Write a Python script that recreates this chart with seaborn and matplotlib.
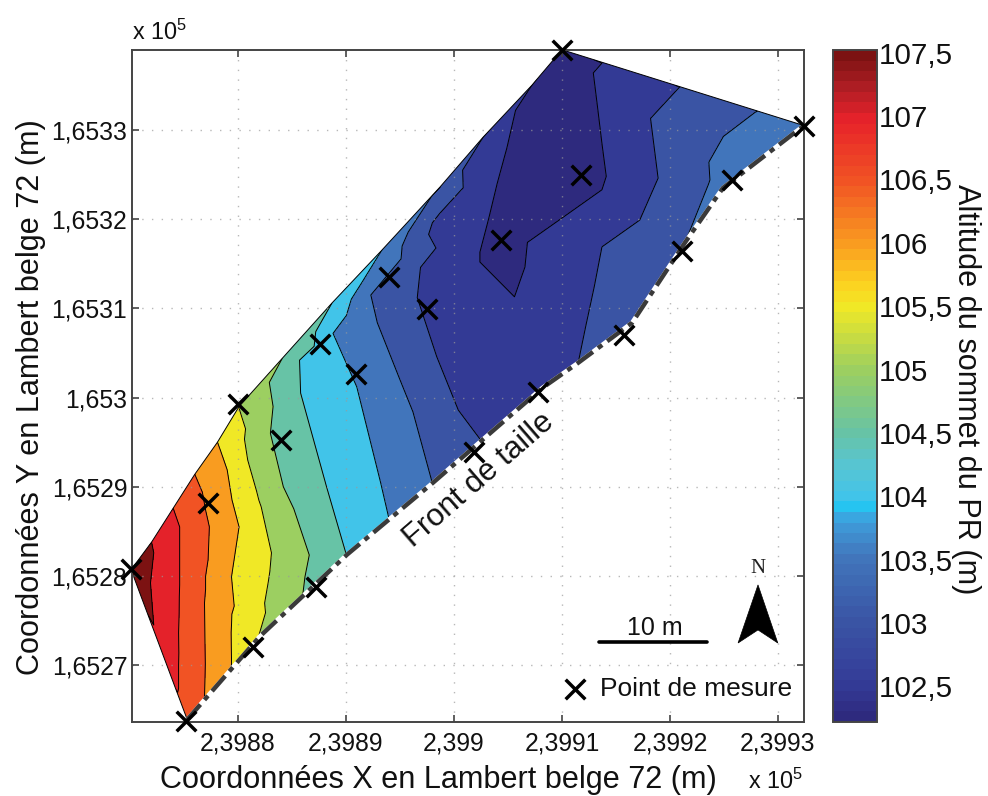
import numpy as np
import pandas as pd
import matplotlib
matplotlib.use('Agg')
import matplotlib.pyplot as plt
import matplotlib.colors as mcolors
import matplotlib.tri as mtri
from matplotlib.cm import ScalarMappable
from matplotlib.patches import Polygon
import seaborn as sns

# all positions are metres from these two origins (Lambert belge 72)
X0 = 239880
Y0 = 165280

# measurement points
POINT_X = [-9.9, -4.8, -2.8, 0.0, 1.4, 4.0, 7.2, 7.6, 10.9, 14.0, 17.5, 21.9, 24.4, 27.8, 30.0, 31.8, 35.7, 41.1, 45.7, 52.4]
POINT_Y = [0.8, -16.3, 8.2, 19.3, -8.0, 15.2, -1.2, 26.0, 22.6, 33.5, 29.9, 13.9, 37.7, 20.6, 59.0, 45.0, 27.0, 36.4, 44.4, 50.4]

# altitude read along each contour of the map
LINES = {
    107.5: [(-8.0, 3.8), (-7.8, 2.6), (-7.8, -5.5)],
    107.0: [(-6.0, 7.6), (-5.4, 5.5), (-5.5, -12.6)],
    106.5: [(-4.0, 11.4), (-3.3, 9.4), (-3.0, 7.4), (-3.1, -3.0), (-3.1, -13.6)],
    106.0: [(-1.9, 15.0), (-1.0, 11.9), (0.1, 5.5), (-0.6, -0.1), (-0.6, -10.3)],
    105.5: [(0.1, 18.8), (0.9, 13.0), (3.1, 2.6), (1.9, -6.8)],
    105.0: [(4.1, 24.4), (2.9, 21.7), (3.0, 16.0), (4.2, 10.0), (6.2, -0.1), (6.0, -2.1)],
    104.5: [(8.7, 30.6), (5.7, 24.2), (5.8, 20.5), (8.2, 10.0), (10.1, 2.1)],
    104.0: [(13.3, 36.5), (8.8, 27.2), (11.0, 21.2), (13.2, 10.5), (14.1, 5.8)],
    103.5: [(18.7, 43.6), (18.0, 42.7), (15.2, 37.0), (12.3, 31.5), (12.9, 28.4), (16.2, 18.4), (18.0, 10.4),
            (47.9, 52.0), (43.6, 46.4), (43.7, 44.4), (41.6, 38.0)],
    103.0: [(22.7, 49.2), (20.8, 45.5), (18.0, 39.6), (16.9, 34.6), (16.6, 31.2), (18.4, 24.6), (20.4, 18.6), (22.5, 15.2),
            (40.8, 54.7), (38.2, 51.3), (38.9, 44.6), (37.2, 39.9), (33.7, 36.9), (33.0, 32.5), (32.2, 28.0), (31.5, 23.9)],
    102.5: [(27.2, 55.0), (25.7, 52.2), (24.9, 48.0), (24.0, 44.0), (23.2, 40.0), (22.4, 36.3), (22.4, 35.2), (25.6, 31.3),
            (26.8, 37.4), (30.2, 40.3), (33.7, 43.3), (34.1, 44.8), (33.7, 48.5), (33.3, 52.5), (32.9, 56.4), (33.7, 57.5)],
}

# spot altitudes read between the contours
SPOTS = {
    107.8: [(-9.9, 0.7)],
    107.25: [(-7.0, 5.5), (-6.6, -2.0), (-6.7, -8.0)],
    106.8: [(-4.7, -16.1)],
    106.75: [(-5.0, 9.5), (-4.2, 0.0), (-4.3, -12.0)],
    106.25: [(-2.6, 13.0), (-1.7, 8.0), (-1.8, -3.0), (-1.8, -10.5)],
    105.75: [(-0.6, 15.0), (0.6, 9.0), (1.4, 2.0), (0.6, -8.0)],
    105.25: [(2.0, 18.0), (2.85, 10.0), (4.5, -1.0), (4.0, -4.5)],
    104.75: [(4.5, 20.0), (6.2, 10.0), (8.0, 0.0), (6.4, 27.5)],
    104.25: [(7.7, 24.0), (10.8, 10.0), (12.1, 4.0), (11.0, 33.5)],
    103.8: [(52.4, 50.5)],
    103.75: [(10.7, 28.5), (13.2, 21.0), (16.0, 8.3)],
    103.7: [(46.5, 47.5)],
    103.65: [(44.9, 43.5)],
    103.25: [(15.0, 30.0), (16.3, 37.0), (17.0, 39.6), (18.3, 18.5), (20.3, 12.7), (36.5, 28.4), (41.3, 44.5), (39.4, 39.0),
             (36.0, 33.0), (43.0, 51.5)],
    102.85: [(21.5, 43.5)],
    102.8: [(28.2, 21.1), (25.0, 20.0), (37.5, 55.5)],
    102.75: [(27.0, 27.0), (19.0, 39.6), (20.0, 32.0), (22.0, 25.0), (30.0, 35.0), (35.5, 40.0), (36.5, 45.0), (36.5, 52.0)],
    102.4: [(25.2, 34.5)],
    102.35: [(24.4, 37.7), (31.8, 45.0), (28.5, 50.0), (29.0, 42.0), (31.0, 53.0), (29.5, 55.0), (26.0, 42.0), (27.0, 46.0)],
    102.3: [(30.0, 59.0)],
}

# outline of the map
EDGE_X = [-9.9, -8.0, -6.0, -4.0, -1.9, 0.1, 4.1, 8.7, 13.3, 18.7, 22.7, 27.2, 30.0, 52.4]
EDGE_Y = [0.7, 3.8, 7.6, 11.4, 15.0, 19.0, 24.4, 30.6, 36.5, 43.6, 49.2, 55.0, 59.0, 50.5]
FRONT_X = [-4.7, 2.0, 10.1, 18.0, 28.2, 31.5, 36.5, 41.4, 44.9, 52.4]
FRONT_Y = [-16.1, -6.8, 2.4, 10.4, 21.1, 23.9, 28.4, 37.4, 43.5, 50.5]

XTICKS = [239880, 239890, 239900, 239910, 239920, 239930]
XLABELS = ['2,3988', '2,3989', '2,399', '2,3991', '2,3992', '2,3993']
YTICKS = [165270, 165280, 165290, 165300, 165310, 165320, 165330]
YLABELS = ['1,6527', '1,6528', '1,6529', '1,653', '1,6531', '1,6532', '1,6533']
CBAR_TICKS = [102.5, 103, 103.5, 104, 104.5, 105, 105.5, 106, 106.5, 107, 107.5]
CBAR_LABELS = ['102,5', '103', '103,5', '104', '104,5', '105', '105,5', '106', '106,5', '107', '107,5']

VMIN = 102.22
VMAX = 107.52
CMAP_VALUES = [102.22, 102.5, 103, 103.5, 103.8, 103.9, 104, 104.25, 104.5, 105, 105.5, 105.7, 106, 106.5, 107, 107.25, 107.52]
CMAP_COLORS = ['#2e2a7e', '#343c98', '#3a55a5', '#4176bc', '#3f9fdc', '#25c4f0', '#45c4e8', '#58c5d0', '#68c3a4', '#9ccf60',
               '#f0e826', '#fdd020', '#f99d20', '#f15424', '#e7222a', '#b01e24', '#7c1212']

sns.set_style('white')
plt.rcParams['font.family'] = ['Liberation Sans', 'DejaVu Sans']
plt.rcParams['mathtext.fontset'] = 'custom'
plt.rcParams['mathtext.rm'] = 'Liberation Sans'
plt.rcParams['mathtext.default'] = 'regular'

TICK_SIZE = 17.8
LABEL_SIZE = 22.1
DARK = '#444444'

norm = mcolors.Normalize(VMIN, VMAX)
anchors = [(v - VMIN) / (VMAX - VMIN) for v in CMAP_VALUES]
cmap = mcolors.LinearSegmentedColormap.from_list('alt', list(zip(anchors, CMAP_COLORS)), N=64)

# samples table for the triangulation
rows = [(X0 + x, Y0 + y, lev) for lev, pts in LINES.items() for x, y in pts]
rows += [(X0 + x, Y0 + y, lev) for lev, pts in SPOTS.items() for x, y in pts]
samples = pd.DataFrame(rows, columns=['x', 'y', 'z'])
points = pd.DataFrame({'x': X0 + np.array(POINT_X), 'y': Y0 + np.array(POINT_Y)})
front = pd.DataFrame({'x': X0 + np.array(FRONT_X), 'y': Y0 + np.array(FRONT_Y)})

fig = plt.figure(figsize=(9.88, 7.96), dpi=100)
ax = fig.add_axes([131.5 / 988, 74 / 796, 672.5 / 988, 672 / 796])
cax = fig.add_axes([833 / 988, 74 / 796, 44 / 988, 672 / 796])

tri = mtri.Triangulation(samples['x'], samples['y'])
levels = [100] + CBAR_TICKS + [110]
# each band takes the colour of its lower contour
band_colors = [cmap(norm(VMIN))] + [cmap(norm(v)) for v in CBAR_TICKS]
outline_xy = np.column_stack([
    X0 + np.array(EDGE_X + FRONT_X[::-1]),
    Y0 + np.array(EDGE_Y + FRONT_Y[::-1]),
])
clip = Polygon(outline_xy, closed=True, transform=ax.transData)

fill = ax.tricontourf(tri, samples['z'], levels=levels, colors=band_colors)
fill.set_clip_path(clip)
lines = ax.tricontour(tri, samples['z'], levels=CBAR_TICKS, colors='black', linewidths=0.7)
lines.set_clip_path(clip)
ax.add_patch(Polygon(outline_xy, closed=True, fill=False, edgecolor='black', linewidth=0.7))

# front de taille: white line under a dark dash-dot one
sns.lineplot(data=front, x='x', y='y', sort=False, estimator=None, color='white', linewidth=3.2, ax=ax, zorder=3)
sns.lineplot(data=front, x='x', y='y', sort=False, estimator=None, color='#3a3a3a', linewidth=3.2, ax=ax, zorder=3.1,
             linestyle=(0, (4.5, 1.4, 1.2, 1.4)))

sns.scatterplot(data=points, x='x', y='y', marker='x', s=200, color='black', linewidth=2.5, clip_on=False,
                ax=ax, zorder=4, label='Point de mesure')

ax.set_xlim(X0 - 9.86, X0 + 52.41)
ax.set_ylim(Y0 - 16.37, Y0 + 58.97)
ax.set_xticks(XTICKS, XLABELS)
ax.set_yticks(YTICKS, YLABELS)
ax.grid(True, linestyle=(0, (1, 6)), color='#9a9a9a', linewidth=1.0, alpha=0.7)
ax.set_axisbelow(False)
ax.tick_params(direction='in', length=5, width=1.2, color=DARK, labelsize=TICK_SIZE, top=True, right=True,
               bottom=True, left=True, pad=7, labelcolor='#111111')
ax.tick_params(axis='y', pad=3)
for s in ax.spines.values():
    s.set_color(DARK)
    s.set_linewidth(1.4)
    s.set_zorder(3.5)
ax.set_xlabel('Coordonnées X en Lambert belge 72 (m)', fontsize=LABEL_SIZE, color='#111111')
ax.set_ylabel('Coordonnées Y en Lambert belge 72 (m)', fontsize=LABEL_SIZE, color='#111111')
ax.xaxis.set_label_coords((438 - 131.5) / 672.5, -(765 - 722) / 672, transform=ax.transAxes)
ax.yaxis.set_label_coords(-(131.5 - 46) / 672.5, (722 - 397) / 672, transform=ax.transAxes)

fig.text(132 / 988, 1 - 32 / 796, 'x 10$^{5}$', fontsize=TICK_SIZE - 1, ha='left', va='center', color='#111111')
fig.text(748 / 988, 1 - 781 / 796, 'x 10$^{5}$', fontsize=TICK_SIZE - 1, ha='left', va='center', color='#111111')

ax.text(X0 + 22.3, Y0 + 10.7, 'Front de taille', rotation=41, rotation_mode='anchor', ha='center', va='center',
        fontsize=22.4, color='#111111', zorder=5)

# scale bar, 10 m long
sns.lineplot(x=[X0 + 33.4, X0 + 43.4], y=[Y0 - 7.4, Y0 - 7.4], color='black', linewidth=2.6, ax=ax, zorder=5)
ax.text(X0 + 38.6, Y0 - 7.2, '10 m', ha='center', va='bottom', fontsize=18, color='#111111', zorder=5)

# north arrow
ax.add_patch(Polygon([(0.9316, 0.204), (0.961, 0.1176), (0.9316, 0.137), (0.902, 0.1176)], closed=True,
                     facecolor='black', edgecolor='black', linewidth=0.5, transform=ax.transAxes, zorder=5))
ax.text(0.9316, 0.229, 'N', ha='center', va='center', fontsize=15, family='Liberation Serif', color='#222222',
        transform=ax.transAxes, zorder=5)

leg = ax.legend(loc='lower right', bbox_to_anchor=(0.992, 0.021), fontsize=19, frameon=True, framealpha=1,
                facecolor='white', edgecolor='none', fancybox=False, handletextpad=0.45, handlelength=1.0,
                borderpad=0.25, borderaxespad=0)
leg.set_zorder(4.5)
for t in leg.get_texts():
    t.set_color('#111111')

cbar = fig.colorbar(ScalarMappable(norm=norm, cmap=cmap), cax=cax)
cbar.set_ticks(CBAR_TICKS, labels=CBAR_LABELS)
cbar.ax.tick_params(direction='in', length=5, width=1.0, color=DARK, labelsize=21.3, left=True, right=True, pad=1,
                    labelcolor='#111111')
cbar.outline.set_edgecolor(DARK)
cbar.outline.set_linewidth(1.4)
cbar.set_label('Altitude du sommet du PR (m)', rotation=270, fontsize=LABEL_SIZE, color='#111111')
cbar.ax.yaxis.set_label_coords((981 - 833) / 44, (722 - 389) / 672, transform=cbar.ax.transAxes)

fig.savefig('out.png', dpi=100)
